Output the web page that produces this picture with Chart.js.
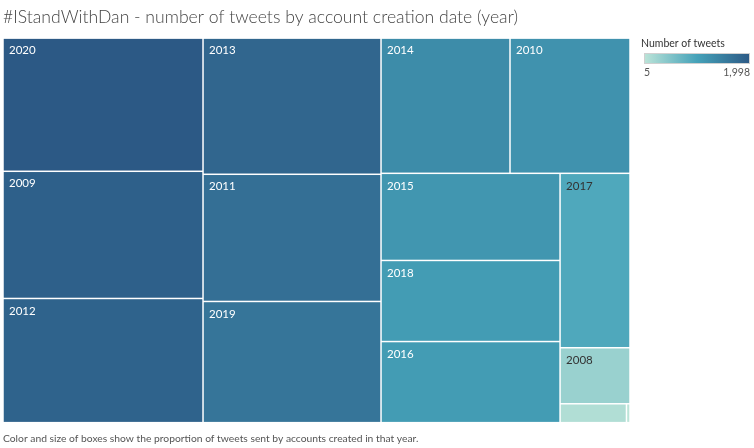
<!DOCTYPE html>
<html>
<head>
<meta charset="utf-8">
<script src="https://cdn.jsdelivr.net/npm/chart.js@4"></script>
<style>
  html, body { margin: 0; padding: 0; background: #fff; }
  #wrap { width: 754px; height: 448px; }
</style>
</head>
<body>
<div id="wrap"><canvas id="chart-js"></canvas></div>
<script>
const years = ["2020", "2009", "2012", "2013", "2011", "2019", "2014", "2010", "2015", "2018", "2016", "2017", "2008", "2007", "2006"];
const tweets = [1998, 1908, 1863, 1818, 1698, 1618, 1308, 1217, 1170, 1089, 1089, 915, 294, 94, 5];
const colorStops = ["#bce4d8", "#45a2b9", "#2c5985"];
const legendLabels = ["5", "1,998"];

// how the boxes are grouped: "h" = side by side, "v" = stacked
const layoutTree = ["h", [
  ["v", [0, 1, 2]],
  ["v", [3, 4, 5]],
  ["v", [
    ["h", [6, 7]],
    ["h", [
      ["v", [8, 9, 10]],
      ["v", [11, 12, ["h", [13, 14]]]],
    ]],
  ]],
]];

const nodeSum = (node) => {
  if (typeof node === "number") return tweets[node];
  return node[1].reduce((s, c) => s + nodeSum(c), 0);
};

// rects in unit space (0..1 on both axes)
const rects = [];
const layout = (node, x0, y0, x1, y1) => {
  if (typeof node === "number") {
    rects.push({ i: node, x0, y0, x1, y1 });
    return;
  }
  const total = nodeSum(node);
  let pos = node[0] === "h" ? x0 : y0;
  node[1].forEach((child) => {
    const f = nodeSum(child) / total;
    if (node[0] === "h") {
      const w = (x1 - x0) * f;
      layout(child, pos, y0, pos + w, y1);
      pos += w;
    } else {
      const h = (y1 - y0) * f;
      layout(child, x0, pos, x1, pos + h);
      pos += h;
    }
  });
};
layout(layoutTree, 0, 0, 1, 1);

const hex = (h) => [1, 3, 5].map((k) => parseInt(h.slice(k, k + 2), 16));
const colorAt = (t) => {
  const seg = t < 0.5 ? 0 : 1;
  const u = t < 0.5 ? t / 0.5 : (t - 0.5) / 0.5;
  const a = hex(colorStops[seg]);
  const b = hex(colorStops[seg + 1]);
  const c = a.map((v, k) => Math.round(v + (b[k] - v) * u));
  return `rgb(${c[0]}, ${c[1]}, ${c[2]})`;
};
const minV = Math.min(...tweets);
const maxV = Math.max(...tweets);

const treemapPlugin = {
  id: "treemap",
  afterDatasetsDraw(chart) {
    const { ctx, scales } = chart;
    const xs = scales.x;
    const ys = scales.y;
    ctx.save();
    rects.forEach((r) => {
      const px0 = xs.getPixelForValue(r.x0);
      const px1 = xs.getPixelForValue(r.x1);
      const py0 = ys.getPixelForValue(r.y0);
      const py1 = ys.getPixelForValue(r.y1);
      const t = (tweets[r.i] - minV) / (maxV - minV);
      ctx.fillStyle = colorAt(t);
      ctx.fillRect(px0 + 0.75, py0 + 0.75, px1 - px0 - 1.5, py1 - py0 - 1.5);
      if (px1 - px0 > 30 && py1 - py0 > 25) {
        ctx.fillStyle = t < 0.5 ? "#333333" : "#ffffff";
        ctx.font = "11.5px Lato";
        ctx.textBaseline = "middle";
        ctx.textAlign = "left";
        ctx.fillText(years[r.i], px0 + 6, py0 + 12.5);
      }
    });

    // colour legend
    const lx = chart.chartArea.right + 14;
    const ly = 53;
    const lw = 106;
    const lh = 11;
    ctx.fillStyle = "#333333";
    ctx.font = "10.5px Lato";
    ctx.textBaseline = "middle";
    ctx.textAlign = "left";
    ctx.fillText("Number of tweets", lx - 3, 44);
    const grad = ctx.createLinearGradient(lx, 0, lx + lw, 0);
    colorStops.forEach((c, k) => grad.addColorStop(k / (colorStops.length - 1), c));
    ctx.fillStyle = grad;
    ctx.fillRect(lx, ly, lw, lh);
    ctx.strokeStyle = "#d0d0d0";
    ctx.lineWidth = 1;
    ctx.strokeRect(lx + 0.5, ly + 0.5, lw - 1, lh - 1);
    ctx.fillStyle = "#555555";
    ctx.fillText(legendLabels[0], lx, 73);
    ctx.textAlign = "right";
    ctx.fillText(legendLabels[1], lx + lw, 73);
    ctx.restore();
  },
};

const graphic = document.querySelector("#chart-js");
new Chart(graphic, {
  type: "scatter",
  data: { datasets: [{ data: [], pointRadius: 0 }] },
  options: {
    responsive: true,
    maintainAspectRatio: false,
    animation: false,
    events: [],
    layout: { padding: { left: 3, right: 124, top: 7, bottom: 0 } },
    scales: {
      x: { type: "linear", min: 0, max: 1, display: false },
      y: { type: "linear", min: 0, max: 1, reverse: true, display: false },
    },
    plugins: {
      legend: { display: false },
      tooltip: { enabled: false },
      title: {
        display: true,
        text: "#IStandWithDan - number of tweets by account creation date (year)",
        align: "start",
        color: "#444444",
        font: { family: "Lato", size: 17.6, weight: "300" },
        padding: { top: 0, bottom: 10 },
      },
      subtitle: {
        display: true,
        position: "bottom",
        text: "Color and size of boxes show the proportion of tweets sent by accounts created in that year.",
        align: "start",
        color: "#555555",
        font: { family: "Lato", size: 10.3 },
        padding: { top: 9.5, bottom: 3.5 },
      },
    },
  },
  plugins: [treemapPlugin],
});
</script>
</body>
</html>
